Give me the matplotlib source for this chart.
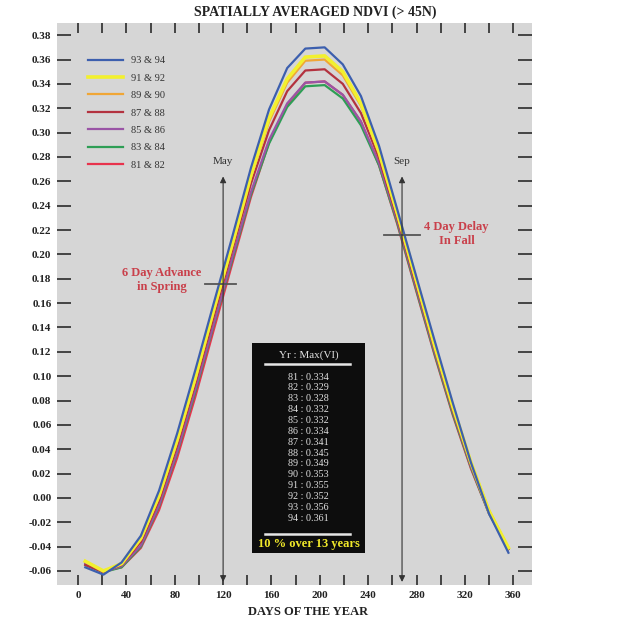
import matplotlib
matplotlib.use('Agg')
import matplotlib.pyplot as plt
import matplotlib.ticker as ticker
from matplotlib.patches import Rectangle

plt.rcParams['font.family'] = ['Liberation Serif', 'DejaVu Serif']

days = [6, 21, 36, 52, 67, 82, 97, 112, 128, 143, 158, 173,
        188, 204, 219, 234, 249, 264, 280, 295, 310, 325, 340, 356]

ndvi_9394 = [-0.057, -0.063, -0.053, -0.031, 0.006, 0.053, 0.105, 0.159, 0.216, 0.271, 0.319, 0.353,
             0.369, 0.370, 0.356, 0.330, 0.289, 0.237, 0.181, 0.129, 0.078, 0.029, -0.013, -0.045]
ndvi_9192 = [-0.052, -0.060, -0.054, -0.033, 0.002, 0.048, 0.099, 0.154, 0.210, 0.265, 0.312, 0.344,
             0.362, 0.363, 0.350, 0.324, 0.284, 0.234, 0.178, 0.125, 0.075, 0.029, -0.011, -0.041]
ndvi_8990 = [-0.052, -0.060, -0.054, -0.034, 0.001, 0.046, 0.097, 0.152, 0.209, 0.263, 0.309, 0.341,
             0.359, 0.360, 0.347, 0.322, 0.283, 0.233, 0.177, 0.125, 0.075, 0.029, -0.010, -0.041]
ndvi_8788 = [-0.055, -0.061, -0.055, -0.036, -0.002, 0.043, 0.094, 0.148, 0.205, 0.258, 0.302, 0.334,
             0.351, 0.352, 0.340, 0.316, 0.279, 0.230, 0.174, 0.122, 0.072, 0.027, -0.012, -0.042]
ndvi_8586 = [-0.054, -0.061, -0.056, -0.039, -0.006, 0.038, 0.089, 0.142, 0.199, 0.251, 0.294, 0.324,
             0.341, 0.342, 0.331, 0.309, 0.275, 0.228, 0.172, 0.120, 0.071, 0.026, -0.012, -0.042]
ndvi_8384 = [-0.055, -0.061, -0.057, -0.040, -0.007, 0.037, 0.087, 0.141, 0.197, 0.249, 0.291, 0.321,
             0.338, 0.339, 0.328, 0.306, 0.273, 0.226, 0.170, 0.118, 0.069, 0.025, -0.013, -0.042]
ndvi_8182 = [-0.053, -0.060, -0.057, -0.041, -0.010, 0.033, 0.083, 0.137, 0.194, 0.247, 0.292, 0.323,
             0.341, 0.342, 0.331, 0.309, 0.273, 0.225, 0.169, 0.117, 0.068, 0.024, -0.013, -0.041]

series_labels = ['93 & 94', '91 & 92', '89 & 90', '87 & 88', '85 & 86', '83 & 84', '81 & 82']
series_values = [ndvi_9394, ndvi_9192, ndvi_8990, ndvi_8788, ndvi_8586, ndvi_8384, ndvi_8182]
series_colors = ['#3c5fae', '#f2f02e', '#f0a636', '#b3323f', '#9a55a6', '#2e9e55', '#e8334d']

table_years = [81, 82, 83, 84, 85, 86, 87, 88, 89, 90, 91, 92, 93, 94]
table_max = [0.334, 0.329, 0.328, 0.332, 0.332, 0.334, 0.341, 0.345, 0.349, 0.353, 0.355, 0.352, 0.356, 0.361]

fig = plt.figure(figsize=(6.19, 6.2), dpi=100)
ax = fig.add_axes([57 / 619, 35 / 620, 475 / 619, 562 / 620])
ax.set_facecolor('#d6d6d6')
for s in ax.spines.values():
    s.set_visible(False)

# draw oldest first so the newest lines sit on top
for lab, vals, col in reversed(list(zip(series_labels, series_values, series_colors))):
    lw = 2.6 if lab == '91 & 92' else 1.6
    ax.plot(days, vals, color=col, lw=lw, label=lab)

ax.set_xlim(-17.4, 375.5)
ax.set_ylim(-0.0715, 0.39)

ax.xaxis.set_major_locator(ticker.MultipleLocator(20))
ax.xaxis.set_major_formatter(ticker.FuncFormatter(lambda x, p: f'{x:.0f}' if round(x) % 40 == 0 else ''))
ax.yaxis.set_major_locator(ticker.MultipleLocator(0.02))
ax.yaxis.set_major_formatter(ticker.FuncFormatter(lambda y, p: f'{y:.2f}'))
ax.tick_params(axis='x', direction='in', length=7, width=1.4, color='#444444',
               top=True, bottom=True, labelsize=8, pad=4)
ax.tick_params(axis='y', direction='in', length=10, width=1.4, color='#444444',
               left=True, right=True, labelsize=8, pad=4)
for lbl in ax.get_xticklabels() + ax.get_yticklabels():
    lbl.set_fontweight('bold')
    lbl.set_color('#222222')

# legend
handles, labels = ax.get_legend_handles_labels()
leg = ax.legend(handles[::-1], labels[::-1], loc='upper left', bbox_to_anchor=(0.045, 0.958),
                frameon=False, fontsize=7.5, handlelength=3.4, handletextpad=0.75, labelspacing=0.78)
for t in leg.get_texts():
    t.set_color('#333333')

# May / Sep arrows
for xd, txt in [(120, 'May'), (268, 'Sep')]:
    ax.annotate('', xy=(xd, 0.264), xytext=(xd, -0.069),
                arrowprops=dict(arrowstyle='<|-|>', color='#333333', lw=0.8,
                                mutation_scale=9, shrinkA=0, shrinkB=0))
    ax.text(xd, 0.276, txt, ha='center', va='center', fontsize=8, color='#333333')

ax.plot([105, 131], [0.1756, 0.1756], color='#555555', lw=1.3)
ax.plot([253, 283], [0.216, 0.216], color='#555555', lw=1.3)

red = '#c9404b'
ax.text(69.5, 0.179, '6 Day Advance\nin Spring', ha='center', va='center', fontsize=9,
        fontweight='bold', color=red, linespacing=1.25)
ax.text(313, 0.2166, '4 Day Delay\nIn Fall', ha='center', va='center', fontsize=9,
        fontweight='bold', color=red, linespacing=1.25)

# table of yearly maxima
ax.add_patch(Rectangle((144, -0.0453), 93.6, 0.1723, facecolor='#0d0d0d', edgecolor='none', zorder=3))
ax.text(190.8, 0.1173, 'Yr : Max(VI)', ha='center', va='center', fontsize=8, color='#e0e0e0', zorder=4)
ax.plot([155, 225], [0.110, 0.110], color='#e6e6e6', lw=1.8, zorder=4)
for i, (yr, mx) in enumerate(zip(table_years, table_max)):
    ax.text(190.8, 0.0992 - i * 0.00891, f'{yr} : {mx:.3f}', ha='center', va='center',
            fontsize=7.3, color='#e0e0e0', zorder=4)
ax.plot([155, 225], [-0.0297, -0.0297], color='#e6e6e6', lw=1.8, zorder=4)
ax.text(190.8, -0.0375, '10 % over 13 years', ha='center', va='center', fontsize=9,
        fontweight='bold', color='#f0e82a', zorder=4)

fig.text(315 / 619, 1 - 12 / 620, 'SPATIALLY AVERAGED NDVI (> 45N)', ha='center', va='center',
         fontsize=10, fontweight='bold', color='#222222')
fig.text(308 / 619, 1 - 612 / 620, 'DAYS OF THE YEAR', ha='center', va='center',
         fontsize=9, fontweight='bold', color='#222222')

fig.savefig('out.png', dpi=100, facecolor='white')
